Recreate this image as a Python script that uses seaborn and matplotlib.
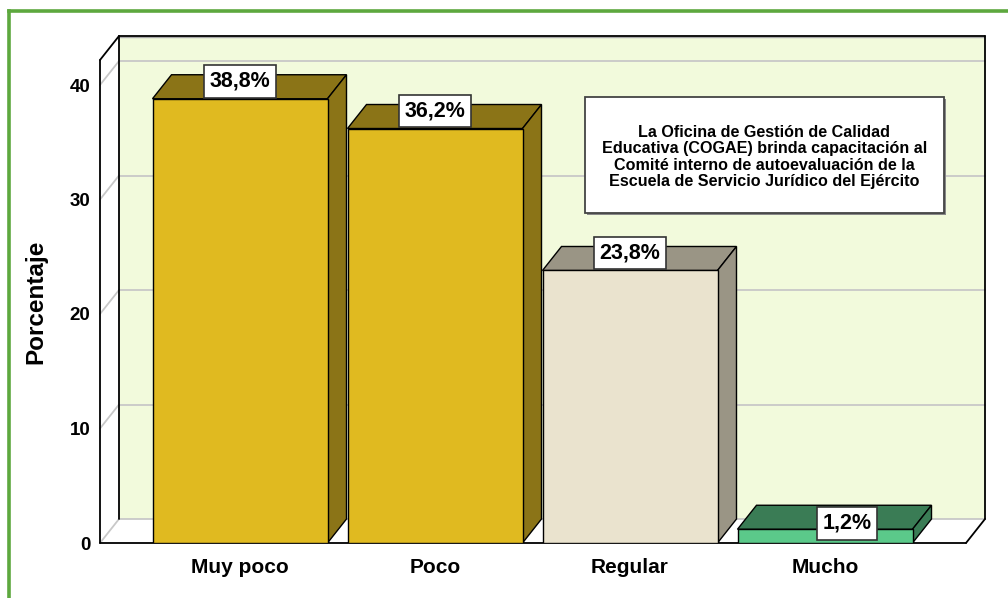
import matplotlib
matplotlib.use("Agg")
import matplotlib.pyplot as plt
import seaborn as sns
import pandas as pd
from matplotlib.patches import Polygon, Rectangle
from matplotlib.lines import Line2D

categories = ["Muy poco", "Poco", "Regular", "Mucho"]
values = [38.8, 36.2, 23.8, 1.2]
front_colors = ["#E0BA20", "#E0BA20", "#EAE3CE", "#5BC98A"]
dark_colors = ["#8B7417", "#8B7417", "#9A9585", "#3A7C55"]
yticks = [0, 10, 20, 30, 40]
ylabel = "Porcentaje"
note = ("La Oficina de Gestión de Calidad\n"
        "Educativa (COGAE) brinda capacitación al\n"
        "Comité interno de autoevaluación de la\n"
        "Escuela de Servicio Jurídico del Ejército")

sns.set_style("white")
plt.rcParams["font.family"] = ["Liberation Sans", "DejaVu Sans"]
plt.rcParams["font.weight"] = "bold"
plt.rcParams["text.color"] = "black"
plt.rcParams["xtick.color"] = "black"
plt.rcParams["ytick.color"] = "black"
plt.rcParams["xtick.labelcolor"] = "black"
plt.rcParams["ytick.labelcolor"] = "black"

W, H = 1008, 598
fig = plt.figure(figsize=(W / 100, H / 100), dpi=100)

# pixel geometry
px_left, px_right, px_top, px_bottom = 100, 985, 36, 543
px_per_cat, cat0_px = 195.0, 240.0
px_per_unit = 11.45
ddx_px, ddy_px = 19.0, 24.0

ax = fig.add_axes([px_left / W, (H - px_bottom) / H,
                   (px_right - px_left) / W, (px_bottom - px_top) / H])
xl = (px_left - cat0_px) / px_per_cat
xr = (px_right - cat0_px) / px_per_cat
top = (px_bottom - px_top) / px_per_unit
ddx = ddx_px / px_per_cat
ddy = ddy_px / px_per_unit

df = pd.DataFrame({"cat": categories, "val": values})
bar_w = 175 / 195
sns.barplot(data=df, x="cat", y="val", order=categories, hue="cat",
            palette=front_colors, legend=False, width=bar_w,
            edgecolor="black", linewidth=1.0, ax=ax, zorder=5, saturation=1)

# walls and floor
ax.add_patch(Polygon([(xl + ddx, ddy), (xr, ddy), (xr, top), (xl + ddx, top)],
                     closed=True, fc="#F2FADC", ec="none", zorder=0))
ax.add_patch(Polygon([(xl, 0), (xl + ddx, ddy), (xl + ddx, top), (xl, top - ddy)],
                     closed=True, fc="white", ec="none", zorder=0))
ax.add_patch(Polygon([(xl, 0), (xr - ddx, 0), (xr, ddy), (xl + ddx, ddy)],
                     closed=True, fc="white", ec="none", zorder=0))

grid_c = "#C8C8C8"
for v in yticks:
    ax.plot([xl + ddx, xr], [v + ddy, v + ddy], color=grid_c, lw=1.3, zorder=1, clip_on=False)
    ax.plot([xl, xl + ddx], [v, v + ddy], color=grid_c, lw=1.3, zorder=1, clip_on=False)

edge_lines = [
    ([xl, xl], [0, top - ddy]),
    ([xl, xl + ddx], [top - ddy, top]),
    ([xl + ddx, xr], [top, top]),
    ([xr, xr], [top, ddy]),
    ([xr, xr - ddx], [ddy, 0]),
    ([xl, xr - ddx], [0, 0]),
    ([xl + ddx, xl + ddx], [ddy, top]),
]
for xs, ys in edge_lines:
    ax.plot(xs, ys, color="black", lw=1.3, zorder=2, clip_on=False)
ax.plot([xl + ddx + 0.004, xr - 0.004], [top - 0.12, top - 0.12], color="#AAAAAA", lw=1, zorder=1.5)

# 3D faces of bars
for i, (v, dc) in enumerate(zip(values, dark_colors)):
    x0, x1 = i - bar_w / 2, i + bar_w / 2
    ax.add_patch(Polygon([(x0, v), (x1, v), (x1 + ddx, v + ddy), (x0 + ddx, v + ddy)],
                         closed=True, fc=dc, ec="black", lw=1.0, zorder=4))
    ax.add_patch(Polygon([(x1, 0), (x1 + ddx, ddy), (x1 + ddx, v + ddy), (x1, v)],
                         closed=True, fc=dc, ec="black", lw=1.0, zorder=4))

# value labels
lbl_dx = [0, 0, 0, 22]
lbl_dy = [17.5, 17.5, 17.5, 6]
for i, v in enumerate(values):
    txt = f"{v:.1f}%".replace(".", ",")
    ax.annotate(txt, xy=(i, v), xytext=(lbl_dx[i] * 0.72, lbl_dy[i] * 0.72),
                textcoords="offset points", ha="center", va="center",
                fontsize=15.5, fontweight="bold", zorder=10, color="black",
                bbox=dict(boxstyle="square,pad=0.27", fc="white", ec="#333333", lw=1.2))

ax.set_xlim(xl, xr)
ax.set_ylim(0, top)
for s in ax.spines.values():
    s.set_visible(False)
ax.set_yticks(yticks)
ax.set_yticklabels([str(t) for t in yticks], fontsize=13.5, fontweight="bold")
ax.set_xticks(range(len(categories)))
ax.set_xticklabels(categories, fontsize=15, fontweight="bold")
ax.tick_params(axis="y", length=0, pad=7)
ax.tick_params(axis="x", length=0, pad=11)
ax.set_xlabel("")
ax.set_ylabel("")
ax.patch.set_visible(False)

fig.text(36 / W, 1 - 302 / H, ylabel, rotation=90, ha="center", va="center",
         fontsize=17.5, fontweight="bold")

# note box
bx0, by0, bx1, by1 = 585, 97, 944, 213
fig.add_artist(Rectangle((bx0 / W + 2 / W, 1 - (by1 + 2) / H), (bx1 - bx0) / W, (by1 - by0) / H,
                         transform=fig.transFigure, fc="#888888", ec="none", zorder=8))
fig.add_artist(Rectangle((bx0 / W, 1 - by1 / H), (bx1 - bx0) / W, (by1 - by0) / H,
                         transform=fig.transFigure, fc="white", ec="#444444", lw=1.3, zorder=9))
fig.text((bx0 + bx1) / 2 / W, 1 - 157 / H, note, ha="center", va="center",
         fontsize=11.6, fontweight="bold", linespacing=1.1, zorder=10)

# green frame
gc = "#5DA83E"
fig.add_artist(Line2D([9 / W, 9 / W], [-0.05, 1 - 11 / H], transform=fig.transFigure,
                      color=gc, lw=2.6, solid_capstyle="projecting"))
fig.add_artist(Line2D([9 / W, 1.05], [1 - 11 / H, 1 - 11 / H], transform=fig.transFigure,
                      color=gc, lw=2.6, solid_capstyle="projecting"))

fig.savefig("out.png", dpi=100)
